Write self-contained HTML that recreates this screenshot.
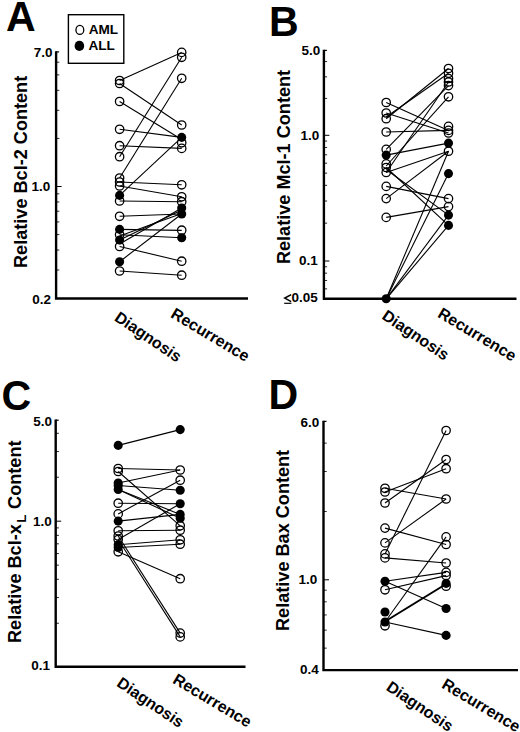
<!DOCTYPE html>
<html><head><meta charset="utf-8"><style>
html,body{margin:0;padding:0;background:#fff;}
svg{display:block}
text{font-family:'Liberation Sans', sans-serif;font-weight:bold;fill:#000}
line{stroke:#000}
</style></head><body>
<svg width="520" height="732" viewBox="0 0 520 732">
<path d="M56.1,51.3 V298.5 H248" fill="none" stroke="#000" stroke-width="2.4"/>
<line x1="56.10" y1="51.90" x2="59.10" y2="51.90" stroke-width="1.2"/>
<line x1="56.10" y1="62.23" x2="59.30" y2="62.23" stroke-width="0.85"/>
<line x1="56.10" y1="74.87" x2="59.30" y2="74.87" stroke-width="0.85"/>
<line x1="56.10" y1="90.35" x2="59.30" y2="90.35" stroke-width="0.85"/>
<line x1="56.10" y1="110.30" x2="59.30" y2="110.30" stroke-width="0.85"/>
<line x1="56.10" y1="138.43" x2="59.30" y2="138.43" stroke-width="0.85"/>
<line x1="56.10" y1="186.50" x2="61.60" y2="186.50" stroke-width="1.0"/>
<line x1="56.10" y1="193.81" x2="59.30" y2="193.81" stroke-width="0.85"/>
<line x1="56.10" y1="201.98" x2="59.30" y2="201.98" stroke-width="0.85"/>
<line x1="56.10" y1="211.24" x2="59.30" y2="211.24" stroke-width="0.85"/>
<line x1="56.10" y1="221.93" x2="59.30" y2="221.93" stroke-width="0.85"/>
<line x1="56.10" y1="234.57" x2="59.30" y2="234.57" stroke-width="0.85"/>
<line x1="56.10" y1="250.05" x2="59.30" y2="250.05" stroke-width="0.85"/>
<line x1="56.10" y1="270.00" x2="59.30" y2="270.00" stroke-width="0.85"/>
<text x="52.6" y="56.7" font-size="13.5" text-anchor="end" >7.0</text>
<text x="50.3" y="191.3" font-size="13.5" text-anchor="end" >1.0</text>
<text x="51" y="303.6" font-size="13.5" text-anchor="end" >0.2</text>
<text transform="translate(27.4,268) rotate(-90)" font-size="18.13">Relative Bcl-2 Content</text>
<text transform="translate(113.5,319.9) rotate(34)" font-size="16">Diagnosis</text>
<text transform="translate(169.8,316.8) rotate(31)" font-size="16">Recurrence</text>
<line x1="119.60" y1="80.50" x2="181.70" y2="52.40" stroke-width="1.1"/>
<line x1="119.60" y1="83.50" x2="181.70" y2="125.00" stroke-width="1.1"/>
<line x1="119.60" y1="101.50" x2="181.70" y2="139.50" stroke-width="1.1"/>
<line x1="119.60" y1="129.30" x2="181.70" y2="137.40" stroke-width="1.1"/>
<line x1="119.60" y1="145.70" x2="181.70" y2="148.40" stroke-width="1.1"/>
<line x1="119.60" y1="156.70" x2="181.70" y2="57.30" stroke-width="1.1"/>
<line x1="119.60" y1="178.00" x2="181.70" y2="78.30" stroke-width="1.1"/>
<line x1="119.60" y1="182.00" x2="181.70" y2="184.80" stroke-width="1.1"/>
<line x1="119.60" y1="186.00" x2="181.70" y2="196.80" stroke-width="1.1"/>
<line x1="119.60" y1="195.40" x2="181.70" y2="137.40" stroke-width="1.1"/>
<line x1="119.60" y1="201.00" x2="181.70" y2="201.70" stroke-width="1.1"/>
<line x1="119.60" y1="216.30" x2="181.70" y2="214.00" stroke-width="1.1"/>
<line x1="119.60" y1="229.40" x2="181.70" y2="230.40" stroke-width="1.1"/>
<line x1="119.60" y1="234.70" x2="181.70" y2="237.80" stroke-width="1.1"/>
<line x1="119.60" y1="236.00" x2="181.70" y2="213.50" stroke-width="1.1"/>
<line x1="119.60" y1="240.00" x2="181.70" y2="210.00" stroke-width="1.1"/>
<line x1="119.60" y1="244.00" x2="181.70" y2="208.00" stroke-width="1.1"/>
<line x1="119.60" y1="246.50" x2="181.70" y2="261.20" stroke-width="1.1"/>
<line x1="119.60" y1="261.70" x2="181.70" y2="214.00" stroke-width="1.1"/>
<line x1="119.60" y1="271.00" x2="181.70" y2="275.20" stroke-width="1.1"/>
<circle cx="119.6" cy="80.5" r="4.2" fill="none" stroke="#000" stroke-width="1.3"/>
<circle cx="119.6" cy="83.5" r="4.2" fill="none" stroke="#000" stroke-width="1.3"/>
<circle cx="119.6" cy="101.5" r="4.2" fill="none" stroke="#000" stroke-width="1.3"/>
<circle cx="119.6" cy="129.3" r="4.2" fill="none" stroke="#000" stroke-width="1.3"/>
<circle cx="119.6" cy="145.7" r="4.2" fill="none" stroke="#000" stroke-width="1.3"/>
<circle cx="119.6" cy="156.7" r="4.2" fill="none" stroke="#000" stroke-width="1.3"/>
<circle cx="119.6" cy="178" r="4.2" fill="none" stroke="#000" stroke-width="1.3"/>
<circle cx="119.6" cy="182" r="4.2" fill="none" stroke="#000" stroke-width="1.3"/>
<circle cx="119.6" cy="186" r="4.2" fill="none" stroke="#000" stroke-width="1.3"/>
<circle cx="119.6" cy="201" r="4.2" fill="none" stroke="#000" stroke-width="1.3"/>
<circle cx="119.6" cy="216.3" r="4.2" fill="none" stroke="#000" stroke-width="1.3"/>
<circle cx="119.6" cy="234.7" r="4.2" fill="none" stroke="#000" stroke-width="1.3"/>
<circle cx="119.6" cy="246.5" r="4.2" fill="none" stroke="#000" stroke-width="1.3"/>
<circle cx="119.6" cy="271" r="4.2" fill="none" stroke="#000" stroke-width="1.3"/>
<circle cx="119.6" cy="195.4" r="4.55" fill="#000" stroke="none"/>
<circle cx="119.6" cy="229.4" r="4.55" fill="#000" stroke="none"/>
<circle cx="119.6" cy="240" r="4.55" fill="#000" stroke="none"/>
<circle cx="119.6" cy="261.7" r="4.55" fill="#000" stroke="none"/>
<circle cx="181.7" cy="52.4" r="4.2" fill="none" stroke="#000" stroke-width="1.3"/>
<circle cx="181.7" cy="57.3" r="4.2" fill="none" stroke="#000" stroke-width="1.3"/>
<circle cx="181.7" cy="78.3" r="4.2" fill="none" stroke="#000" stroke-width="1.3"/>
<circle cx="181.7" cy="125" r="4.2" fill="none" stroke="#000" stroke-width="1.3"/>
<circle cx="181.7" cy="142.8" r="4.2" fill="none" stroke="#000" stroke-width="1.3"/>
<circle cx="181.7" cy="148.4" r="4.2" fill="none" stroke="#000" stroke-width="1.3"/>
<circle cx="181.7" cy="184.8" r="4.2" fill="none" stroke="#000" stroke-width="1.3"/>
<circle cx="181.7" cy="196.8" r="4.2" fill="none" stroke="#000" stroke-width="1.3"/>
<circle cx="181.7" cy="201.7" r="4.2" fill="none" stroke="#000" stroke-width="1.3"/>
<circle cx="181.7" cy="230.2" r="4.2" fill="none" stroke="#000" stroke-width="1.3"/>
<circle cx="181.7" cy="261.2" r="4.2" fill="none" stroke="#000" stroke-width="1.3"/>
<circle cx="181.7" cy="275.2" r="4.2" fill="none" stroke="#000" stroke-width="1.3"/>
<circle cx="181.7" cy="137.4" r="4.55" fill="#000" stroke="none"/>
<circle cx="181.7" cy="208" r="4.55" fill="#000" stroke="none"/>
<circle cx="181.7" cy="214" r="4.55" fill="#000" stroke="none"/>
<circle cx="181.7" cy="237.8" r="4.55" fill="#000" stroke="none"/>
<text transform="translate(6.1,31.3) scale(0.95,1)" font-size="43.3">A</text>
<path d="M323.9,49.8 V298.7 H516.5" fill="none" stroke="#000" stroke-width="2.4"/>
<line x1="323.90" y1="50.40" x2="326.90" y2="50.40" stroke-width="1.2"/>
<line x1="323.90" y1="61.55" x2="327.10" y2="61.55" stroke-width="0.85"/>
<line x1="323.90" y1="76.85" x2="327.10" y2="76.85" stroke-width="0.85"/>
<line x1="323.90" y1="98.42" x2="327.10" y2="98.42" stroke-width="0.85"/>
<line x1="323.90" y1="135.30" x2="329.40" y2="135.30" stroke-width="1.0"/>
<line x1="323.90" y1="141.05" x2="327.10" y2="141.05" stroke-width="0.85"/>
<line x1="323.90" y1="147.48" x2="327.10" y2="147.48" stroke-width="0.85"/>
<line x1="323.90" y1="154.77" x2="327.10" y2="154.77" stroke-width="0.85"/>
<line x1="323.90" y1="163.19" x2="327.10" y2="163.19" stroke-width="0.85"/>
<line x1="323.90" y1="173.14" x2="327.10" y2="173.14" stroke-width="0.85"/>
<line x1="323.90" y1="185.32" x2="327.10" y2="185.32" stroke-width="0.85"/>
<line x1="323.90" y1="201.03" x2="327.10" y2="201.03" stroke-width="0.85"/>
<line x1="323.90" y1="223.16" x2="327.10" y2="223.16" stroke-width="0.85"/>
<line x1="323.90" y1="261.00" x2="329.40" y2="261.00" stroke-width="1.0"/>
<line x1="323.90" y1="266.75" x2="327.10" y2="266.75" stroke-width="0.85"/>
<line x1="323.90" y1="273.18" x2="327.10" y2="273.18" stroke-width="0.85"/>
<line x1="323.90" y1="280.47" x2="327.10" y2="280.47" stroke-width="0.85"/>
<line x1="323.90" y1="288.89" x2="327.10" y2="288.89" stroke-width="0.85"/>
<text x="320.2" y="55.1" font-size="13.5" text-anchor="end" >5.0</text>
<text x="319.3" y="140.4" font-size="13.5" text-anchor="end" >1.0</text>
<text x="317.8" y="265.3" font-size="13.5" text-anchor="end" >0.1</text>
<text x="317.8" y="301.5" font-size="13.5" text-anchor="end" >0.05</text>
<text transform="translate(289.8,264.1) rotate(-90)" font-size="18.13">Relative Mcl-1 Content</text>
<text transform="translate(381,318.2) rotate(34)" font-size="16">Diagnosis</text>
<text transform="translate(436.7,316.4) rotate(31)" font-size="16">Recurrence</text>
<line x1="386.20" y1="102.50" x2="448.50" y2="130.40" stroke-width="1.1"/>
<line x1="386.20" y1="113.00" x2="448.50" y2="133.00" stroke-width="1.1"/>
<line x1="386.20" y1="118.70" x2="448.50" y2="68.50" stroke-width="1.1"/>
<line x1="386.20" y1="117.00" x2="448.50" y2="73.30" stroke-width="1.1"/>
<line x1="386.20" y1="132.00" x2="448.50" y2="130.40" stroke-width="1.1"/>
<line x1="386.20" y1="149.40" x2="448.50" y2="85.60" stroke-width="1.1"/>
<line x1="386.20" y1="155.10" x2="448.50" y2="143.10" stroke-width="1.1"/>
<line x1="386.20" y1="167.50" x2="448.50" y2="225.40" stroke-width="1.1"/>
<line x1="386.20" y1="169.50" x2="448.50" y2="215.10" stroke-width="1.1"/>
<line x1="386.20" y1="172.50" x2="448.50" y2="151.20" stroke-width="1.1"/>
<line x1="386.20" y1="166.00" x2="448.50" y2="96.80" stroke-width="1.1"/>
<line x1="386.20" y1="172.50" x2="448.50" y2="82.00" stroke-width="1.1"/>
<line x1="386.20" y1="186.40" x2="448.50" y2="198.60" stroke-width="1.1"/>
<line x1="386.20" y1="198.60" x2="448.50" y2="151.20" stroke-width="1.1"/>
<line x1="386.20" y1="217.40" x2="448.50" y2="206.60" stroke-width="1.1"/>
<line x1="386.20" y1="298.80" x2="448.50" y2="151.20" stroke-width="1.1"/>
<line x1="386.20" y1="298.80" x2="448.50" y2="173.60" stroke-width="1.1"/>
<line x1="386.20" y1="298.80" x2="448.50" y2="215.10" stroke-width="1.1"/>
<line x1="386.20" y1="298.80" x2="448.50" y2="225.40" stroke-width="1.1"/>
<circle cx="386.2" cy="102.5" r="4.2" fill="none" stroke="#000" stroke-width="1.3"/>
<circle cx="386.2" cy="113" r="4.2" fill="none" stroke="#000" stroke-width="1.3"/>
<circle cx="386.2" cy="118.7" r="4.2" fill="none" stroke="#000" stroke-width="1.3"/>
<circle cx="386.2" cy="132" r="4.2" fill="none" stroke="#000" stroke-width="1.3"/>
<circle cx="386.2" cy="149.4" r="4.2" fill="none" stroke="#000" stroke-width="1.3"/>
<circle cx="386.2" cy="163.9" r="4.2" fill="none" stroke="#000" stroke-width="1.3"/>
<circle cx="386.2" cy="167.5" r="4.2" fill="none" stroke="#000" stroke-width="1.3"/>
<circle cx="386.2" cy="172.5" r="4.2" fill="none" stroke="#000" stroke-width="1.3"/>
<circle cx="386.2" cy="186.4" r="4.2" fill="none" stroke="#000" stroke-width="1.3"/>
<circle cx="386.2" cy="198.6" r="4.2" fill="none" stroke="#000" stroke-width="1.3"/>
<circle cx="386.2" cy="217.4" r="4.2" fill="none" stroke="#000" stroke-width="1.3"/>
<circle cx="386.2" cy="155.1" r="4.55" fill="#000" stroke="none"/>
<circle cx="386.2" cy="298.8" r="4.55" fill="#000" stroke="none"/>
<circle cx="448.5" cy="68.5" r="4.2" fill="none" stroke="#000" stroke-width="1.3"/>
<circle cx="448.5" cy="73.3" r="4.2" fill="none" stroke="#000" stroke-width="1.3"/>
<circle cx="448.5" cy="78.5" r="4.2" fill="none" stroke="#000" stroke-width="1.3"/>
<circle cx="448.5" cy="82" r="4.2" fill="none" stroke="#000" stroke-width="1.3"/>
<circle cx="448.5" cy="85.6" r="4.2" fill="none" stroke="#000" stroke-width="1.3"/>
<circle cx="448.5" cy="96.8" r="4.2" fill="none" stroke="#000" stroke-width="1.3"/>
<circle cx="448.5" cy="126.4" r="4.2" fill="none" stroke="#000" stroke-width="1.3"/>
<circle cx="448.5" cy="130.4" r="4.2" fill="none" stroke="#000" stroke-width="1.3"/>
<circle cx="448.5" cy="133" r="4.2" fill="none" stroke="#000" stroke-width="1.3"/>
<circle cx="448.5" cy="151.2" r="4.2" fill="none" stroke="#000" stroke-width="1.3"/>
<circle cx="448.5" cy="198.6" r="4.2" fill="none" stroke="#000" stroke-width="1.3"/>
<circle cx="448.5" cy="206.6" r="4.2" fill="none" stroke="#000" stroke-width="1.3"/>
<circle cx="448.5" cy="143.1" r="4.55" fill="#000" stroke="none"/>
<circle cx="448.5" cy="173.6" r="4.55" fill="#000" stroke="none"/>
<circle cx="448.5" cy="215.1" r="4.55" fill="#000" stroke="none"/>
<circle cx="448.5" cy="225.4" r="4.55" fill="#000" stroke="none"/>
<text transform="translate(269,36) scale(0.95,1)" font-size="43.3">B</text>
<path d="M55.7,419.6 V666.7 H245.5" fill="none" stroke="#000" stroke-width="2.4"/>
<line x1="55.70" y1="420.20" x2="58.70" y2="420.20" stroke-width="1.2"/>
<line x1="55.70" y1="433.30" x2="58.90" y2="433.30" stroke-width="0.85"/>
<line x1="55.70" y1="451.54" x2="58.90" y2="451.54" stroke-width="0.85"/>
<line x1="55.70" y1="477.25" x2="58.90" y2="477.25" stroke-width="0.85"/>
<line x1="55.70" y1="521.20" x2="61.20" y2="521.20" stroke-width="1.0"/>
<line x1="55.70" y1="527.88" x2="58.90" y2="527.88" stroke-width="0.85"/>
<line x1="55.70" y1="535.35" x2="58.90" y2="535.35" stroke-width="0.85"/>
<line x1="55.70" y1="543.82" x2="58.90" y2="543.82" stroke-width="0.85"/>
<line x1="55.70" y1="553.59" x2="58.90" y2="553.59" stroke-width="0.85"/>
<line x1="55.70" y1="565.15" x2="58.90" y2="565.15" stroke-width="0.85"/>
<line x1="55.70" y1="579.30" x2="58.90" y2="579.30" stroke-width="0.85"/>
<line x1="55.70" y1="597.54" x2="58.90" y2="597.54" stroke-width="0.85"/>
<line x1="55.70" y1="623.25" x2="58.90" y2="623.25" stroke-width="0.85"/>
<text x="52" y="425.5" font-size="13.5" text-anchor="end" >5.0</text>
<text x="51.8" y="526.3" font-size="13.5" text-anchor="end" >1.0</text>
<text x="50" y="670.2" font-size="13.5" text-anchor="end" >0.1</text>
<text transform="translate(21.3,643) rotate(-90)" font-size="18.13">Relative Bcl-x<tspan font-size="13.4" dx="1.4" dy="5">L</tspan><tspan dx="0.7" dy="-5"> Content</tspan></text>
<text transform="translate(115.8,685.5) rotate(34)" font-size="16">Diagnosis</text>
<text transform="translate(171.8,682.4) rotate(31)" font-size="16">Recurrence</text>
<line x1="118.20" y1="445.40" x2="180.20" y2="429.60" stroke-width="1.1"/>
<line x1="118.20" y1="468.50" x2="180.20" y2="470.00" stroke-width="1.1"/>
<line x1="118.20" y1="471.50" x2="180.20" y2="525.80" stroke-width="1.1"/>
<line x1="118.20" y1="483.00" x2="180.20" y2="470.00" stroke-width="1.1"/>
<line x1="118.20" y1="485.50" x2="180.20" y2="490.20" stroke-width="1.1"/>
<line x1="118.20" y1="489.50" x2="180.20" y2="518.20" stroke-width="1.1"/>
<line x1="118.20" y1="489.50" x2="180.20" y2="514.40" stroke-width="1.1"/>
<line x1="118.20" y1="503.20" x2="180.20" y2="503.70" stroke-width="1.1"/>
<line x1="118.20" y1="513.90" x2="180.20" y2="480.20" stroke-width="1.1"/>
<line x1="118.20" y1="521.10" x2="180.20" y2="514.40" stroke-width="1.1"/>
<line x1="118.20" y1="530.80" x2="180.20" y2="530.20" stroke-width="1.1"/>
<line x1="118.20" y1="536.00" x2="180.20" y2="633.10" stroke-width="1.1"/>
<line x1="118.20" y1="539.50" x2="180.20" y2="636.90" stroke-width="1.1"/>
<line x1="118.20" y1="539.50" x2="180.20" y2="503.70" stroke-width="1.1"/>
<line x1="118.20" y1="544.80" x2="180.20" y2="539.80" stroke-width="1.1"/>
<line x1="118.20" y1="547.50" x2="180.20" y2="544.20" stroke-width="1.1"/>
<line x1="118.20" y1="551.80" x2="180.20" y2="578.70" stroke-width="1.1"/>
<circle cx="118.2" cy="468.5" r="4.2" fill="none" stroke="#000" stroke-width="1.3"/>
<circle cx="118.2" cy="471.5" r="4.2" fill="none" stroke="#000" stroke-width="1.3"/>
<circle cx="118.2" cy="503.2" r="4.2" fill="none" stroke="#000" stroke-width="1.3"/>
<circle cx="118.2" cy="513.9" r="4.2" fill="none" stroke="#000" stroke-width="1.3"/>
<circle cx="118.2" cy="530.8" r="4.2" fill="none" stroke="#000" stroke-width="1.3"/>
<circle cx="118.2" cy="536" r="4.2" fill="none" stroke="#000" stroke-width="1.3"/>
<circle cx="118.2" cy="539.5" r="4.2" fill="none" stroke="#000" stroke-width="1.3"/>
<circle cx="118.2" cy="551.8" r="4.2" fill="none" stroke="#000" stroke-width="1.3"/>
<circle cx="118.2" cy="445.4" r="4.55" fill="#000" stroke="none"/>
<circle cx="118.2" cy="483" r="4.55" fill="#000" stroke="none"/>
<circle cx="118.2" cy="485.5" r="4.55" fill="#000" stroke="none"/>
<circle cx="118.2" cy="489.5" r="4.55" fill="#000" stroke="none"/>
<circle cx="118.2" cy="521.1" r="4.55" fill="#000" stroke="none"/>
<circle cx="118.2" cy="544.8" r="4.55" fill="#000" stroke="none"/>
<circle cx="118.2" cy="547.5" r="4.55" fill="#000" stroke="none"/>
<circle cx="180.2" cy="470" r="4.2" fill="none" stroke="#000" stroke-width="1.3"/>
<circle cx="180.2" cy="480.2" r="4.2" fill="none" stroke="#000" stroke-width="1.3"/>
<circle cx="180.2" cy="525.8" r="4.2" fill="none" stroke="#000" stroke-width="1.3"/>
<circle cx="180.2" cy="530.2" r="4.2" fill="none" stroke="#000" stroke-width="1.3"/>
<circle cx="180.2" cy="539.8" r="4.2" fill="none" stroke="#000" stroke-width="1.3"/>
<circle cx="180.2" cy="544.2" r="4.2" fill="none" stroke="#000" stroke-width="1.3"/>
<circle cx="180.2" cy="578.7" r="4.2" fill="none" stroke="#000" stroke-width="1.3"/>
<circle cx="180.2" cy="633.1" r="4.2" fill="none" stroke="#000" stroke-width="1.3"/>
<circle cx="180.2" cy="636.9" r="4.2" fill="none" stroke="#000" stroke-width="1.3"/>
<circle cx="180.2" cy="429.6" r="4.55" fill="#000" stroke="none"/>
<circle cx="180.2" cy="490.2" r="4.55" fill="#000" stroke="none"/>
<circle cx="180.2" cy="503.7" r="4.55" fill="#000" stroke="none"/>
<circle cx="180.2" cy="514.4" r="4.55" fill="#000" stroke="none"/>
<circle cx="180.2" cy="518.2" r="4.55" fill="#000" stroke="none"/>
<text transform="translate(1.5,409.5) scale(0.95,1)" font-size="43.3">C</text>
<path d="M323.5,420.8 V670.1 H518" fill="none" stroke="#000" stroke-width="2.4"/>
<line x1="323.50" y1="421.40" x2="326.50" y2="421.40" stroke-width="1.2"/>
<line x1="323.50" y1="443.13" x2="326.70" y2="443.13" stroke-width="0.85"/>
<line x1="323.50" y1="471.49" x2="326.70" y2="471.49" stroke-width="0.85"/>
<line x1="323.50" y1="511.47" x2="326.70" y2="511.47" stroke-width="0.85"/>
<line x1="323.50" y1="579.80" x2="329.00" y2="579.80" stroke-width="1.0"/>
<line x1="323.50" y1="590.19" x2="326.70" y2="590.19" stroke-width="0.85"/>
<line x1="323.50" y1="601.80" x2="326.70" y2="601.80" stroke-width="0.85"/>
<line x1="323.50" y1="614.96" x2="326.70" y2="614.96" stroke-width="0.85"/>
<line x1="323.50" y1="630.16" x2="326.70" y2="630.16" stroke-width="0.85"/>
<line x1="323.50" y1="648.13" x2="326.70" y2="648.13" stroke-width="0.85"/>
<text x="319.3" y="427.3" font-size="13.5" text-anchor="end" >6.0</text>
<text x="317.4" y="584.3" font-size="13.5" text-anchor="end" >1.0</text>
<text x="318.8" y="673.6" font-size="13.5" text-anchor="end" >0.4</text>
<text transform="translate(288.5,631) rotate(-90)" font-size="18.13">Relative Bax Content</text>
<text transform="translate(385.2,689.4) rotate(34)" font-size="16">Diagnosis</text>
<text transform="translate(440.7,687.2) rotate(31)" font-size="16">Recurrence</text>
<line x1="385.00" y1="488.30" x2="446.10" y2="499.00" stroke-width="1.1"/>
<line x1="385.00" y1="492.00" x2="446.10" y2="468.70" stroke-width="1.1"/>
<line x1="385.00" y1="503.00" x2="446.10" y2="459.50" stroke-width="1.1"/>
<line x1="385.00" y1="528.10" x2="446.10" y2="544.50" stroke-width="1.1"/>
<line x1="385.00" y1="542.90" x2="446.10" y2="499.00" stroke-width="1.1"/>
<line x1="385.00" y1="553.90" x2="446.10" y2="430.50" stroke-width="1.1"/>
<line x1="385.00" y1="557.90" x2="446.10" y2="563.00" stroke-width="1.1"/>
<line x1="385.00" y1="581.20" x2="446.10" y2="572.40" stroke-width="1.1"/>
<line x1="385.00" y1="589.80" x2="446.10" y2="575.60" stroke-width="1.1"/>
<line x1="385.00" y1="581.20" x2="446.10" y2="608.50" stroke-width="1.1"/>
<line x1="385.00" y1="622.00" x2="446.10" y2="536.90" stroke-width="1.1"/>
<line x1="385.00" y1="622.00" x2="446.10" y2="635.40" stroke-width="1.1"/>
<line x1="385.00" y1="621.50" x2="446.10" y2="584.00" stroke-width="2.0"/>
<circle cx="385" cy="488.3" r="4.2" fill="none" stroke="#000" stroke-width="1.3"/>
<circle cx="385" cy="492" r="4.2" fill="none" stroke="#000" stroke-width="1.3"/>
<circle cx="385" cy="503" r="4.2" fill="none" stroke="#000" stroke-width="1.3"/>
<circle cx="385" cy="528.1" r="4.2" fill="none" stroke="#000" stroke-width="1.3"/>
<circle cx="385" cy="542.9" r="4.2" fill="none" stroke="#000" stroke-width="1.3"/>
<circle cx="385" cy="553.9" r="4.2" fill="none" stroke="#000" stroke-width="1.3"/>
<circle cx="385" cy="557.9" r="4.2" fill="none" stroke="#000" stroke-width="1.3"/>
<circle cx="385" cy="589.8" r="4.2" fill="none" stroke="#000" stroke-width="1.3"/>
<circle cx="385" cy="625.8" r="4.2" fill="none" stroke="#000" stroke-width="1.3"/>
<circle cx="385" cy="581.2" r="4.55" fill="#000" stroke="none"/>
<circle cx="385" cy="612" r="4.55" fill="#000" stroke="none"/>
<circle cx="385" cy="622" r="4.55" fill="#000" stroke="none"/>
<circle cx="446.1" cy="430.5" r="4.2" fill="none" stroke="#000" stroke-width="1.3"/>
<circle cx="446.1" cy="459.5" r="4.2" fill="none" stroke="#000" stroke-width="1.3"/>
<circle cx="446.1" cy="468.7" r="4.2" fill="none" stroke="#000" stroke-width="1.3"/>
<circle cx="446.1" cy="499" r="4.2" fill="none" stroke="#000" stroke-width="1.3"/>
<circle cx="446.1" cy="536.9" r="4.2" fill="none" stroke="#000" stroke-width="1.3"/>
<circle cx="446.1" cy="544.5" r="4.2" fill="none" stroke="#000" stroke-width="1.3"/>
<circle cx="446.1" cy="563" r="4.2" fill="none" stroke="#000" stroke-width="1.3"/>
<circle cx="446.1" cy="572.4" r="4.2" fill="none" stroke="#000" stroke-width="1.3"/>
<circle cx="446.1" cy="575.6" r="4.2" fill="none" stroke="#000" stroke-width="1.3"/>
<circle cx="446.1" cy="586.2" r="4.2" fill="none" stroke="#000" stroke-width="1.3"/>
<circle cx="446.1" cy="583.4" r="4.55" fill="#000" stroke="none"/>
<circle cx="446.1" cy="608.5" r="4.55" fill="#000" stroke="none"/>
<circle cx="446.1" cy="635.4" r="4.55" fill="#000" stroke="none"/>
<text transform="translate(268.4,409.2) scale(0.95,1)" font-size="43.3">D</text>
<path d="M291.2,294.6 L284.8,298.1 L291.2,301.6" fill="none" stroke="#000" stroke-width="1.6" stroke-linejoin="miter"/>
<line x1="284.20" y1="303.30" x2="291.40" y2="303.30" stroke-width="1.2"/>
<rect x="68.4" y="14.7" width="55.4" height="48.6" fill="none" stroke="#000" stroke-width="1.4"/>
<ellipse cx="79.85" cy="29.95" rx="3.9" ry="4.5" fill="none" stroke="#000" stroke-width="1.3"/>
<ellipse cx="79.4" cy="45.9" rx="4.8" ry="5.1" fill="#000"/>
<text x="88.7" y="34" font-size="13.6" text-anchor="start" >AML</text>
<text x="88.5" y="50.3" font-size="13.6" text-anchor="start" >ALL</text>
</svg>
</body></html>
